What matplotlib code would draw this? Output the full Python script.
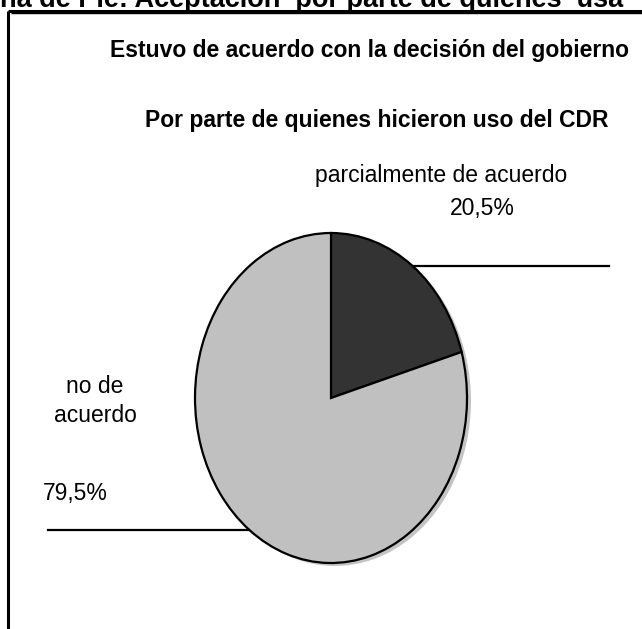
import matplotlib
matplotlib.use("Agg")
import matplotlib.pyplot as plt
import numpy as np

# data
labels = ["parcialmente de acuerdo", "no de acuerdo"]
values = [20.5, 79.5]
colors = ["#333333", "#c0c0c0"]
pct_text = ["20,5%", "79,5%"]

W, H = 642, 629
plt.rcParams["font.family"] = ["Liberation Sans", "DejaVu Sans"]

fig = plt.figure(figsize=(W / 100, H / 100), dpi=100)
fig.patch.set_facecolor("white")

# overlay in pixel coordinates for frame and texts
bg = fig.add_axes([0, 0, 1, 1])
bg.set_xlim(0, W)
bg.set_ylim(H, 0)
bg.axis("off")

# heading above the frame, cut by the top edge as in the reference
bg.text(0, 7, "na de Pie: Aceptación  por parte de quienes  usa",
        fontsize=19.5, fontweight="bold", ha="left", va="baseline")

# double frame
bg.plot([7.5, W], [10.5, 10.5], color="black", lw=2.2, solid_capstyle="butt")
bg.plot([7.5, 7.5], [10.5, H], color="black", lw=2.2, solid_capstyle="butt")
bg.plot([11, W], [13, 13], color="black", lw=1.0, solid_capstyle="butt")

bg.text(370, 57, "Estuvo de acuerdo con la decisión del gobierno",
        fontsize=16.5, fontweight="bold", ha="center", va="baseline")
bg.text(377, 127, "Por parte de quienes hicieron uso del CDR",
        fontsize=16.5, fontweight="bold", ha="center", va="baseline")

# slice labels
bg.text(441, 182, labels[0], fontsize=16.5, ha="center", va="baseline")
bg.text(482, 215, pct_text[0], fontsize=16.5, ha="center", va="baseline")
bg.text(95, 393, "no de", fontsize=16.5, ha="center", va="baseline")
bg.text(95, 422, "acuerdo", fontsize=16.5, ha="center", va="baseline")
bg.text(75, 500, pct_text[1], fontsize=16.5, ha="center", va="baseline")

# elliptical pie: axes box is the ellipse bounding box, aspect left free
cx0, cy0, rx, ry = 331, 398, 136, 165
ax = fig.add_axes([(cx0 - rx) / W, 1 - (cy0 + ry) / H, 2 * rx / W, 2 * ry / H])

# light shadow behind
ax.pie(values, colors=["#c4c4c4", "#c4c4c4"], startangle=90, counterclock=False,
       center=(4 / rx, -3 / ry), radius=1,
       wedgeprops=dict(linewidth=0))
wedges, _ = ax.pie(values, colors=colors, startangle=90, counterclock=False,
                   radius=1, wedgeprops=dict(edgecolor="black", linewidth=1.6))
ax.set_aspect("auto")
ax.set_xlim(-1, 1)
ax.set_ylim(-1, 1)
ax.axis("off")

# horizontal leader lines from mid-angle of each wedge
ends = [(609 - cx0) / rx, (48 - cx0) / rx]
for w, xe in zip(wedges, ends):
    mid = np.deg2rad((w.theta1 + w.theta2) / 2)
    x0, y0 = np.cos(mid), np.sin(mid)
    ax.plot([x0, xe], [y0, y0], color="black", lw=1.6, clip_on=False)

fig.savefig("out.png", dpi=100)
